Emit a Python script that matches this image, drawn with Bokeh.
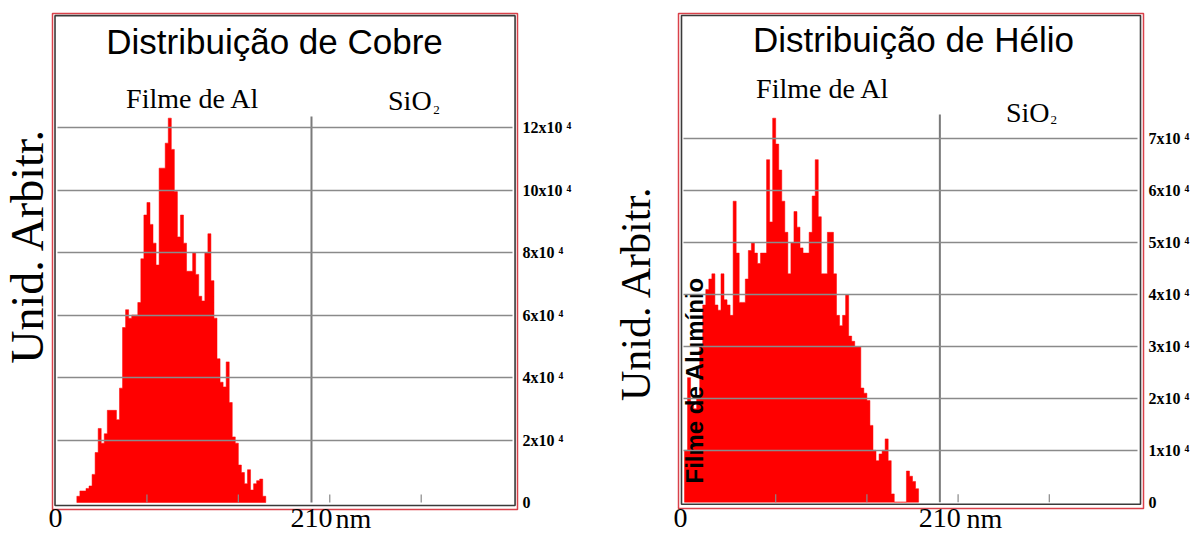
import math
import numpy as np
from bokeh.plotting import figure
from bokeh.models import Range1d, LinearAxis, FixedTicker, Grid, Label
from bokeh.layouts import row
from bokeh.embed import file_html
from bokeh.resources import INLINE

# ---------------- data ----------------
bin_width_nm = 2.5
cobre_start_nm = 17.5
cobre_counts_1e4 = [0.2, 0.37, 0.37, 0.45, 0.53, 0.9, 1.6, 2.37, 1.9, 2.2,
                    2.95, 2.95, 2.95, 2.65, 3.66, 5.6, 6.17, 5.9, 6.0, 6.0,
                    6.4, 7.8, 9.2, 9.6, 8.9, 8.3, 7.6, 10.7, 10.7, 11.5,
                    12.3, 11.3, 9.95, 8.5, 9.2, 8.3, 7.4, 7.4, 8.0, 7.3,
                    6.6, 6.45, 8.0, 8.6, 7.1, 5.9, 4.6, 3.85, 3.7, 4.5,
                    3.2, 2.1, 1.9, 1.2, 0.96, 0.6, 1.05, 0.4, 0.6, 0.7,
                    0.75, 0.2]
helio_start_nm = 0.0
helio_counts_1e4 = [1.0, 2.4, 1.9, 1.8, 2.0, 3.0, 3.8, 4.1, 4.3, 4.4,
                    3.8, 3.7, 4.4, 3.9, 3.8, 3.6, 5.8, 4.8, 3.85, 3.85,
                    4.3, 4.85, 5.0, 4.8, 4.6, 4.8, 4.8, 6.6, 5.4, 7.4,
                    6.9, 6.4, 5.8, 5.2, 4.4, 5.0, 5.6, 5.3, 4.9, 4.8,
                    4.8, 5.2, 5.9, 6.6, 5.5, 4.4, 4.4, 5.2, 5.2, 4.4,
                    3.6, 3.4, 3.6, 4.0, 3.2, 3.1, 3.0, 3.0, 2.2, 2.1,
                    1.96, 1.48, 1.0, 0.8, 0.93, 1.0, 1.22, 0.8, 0.16, 0.0,
                    0.0, 0.0, 0.0, 0.6, 0.5, 0.4, 0.26]
interface_nm = 210
x_minor_ticks_nm = [75, 150, 225, 300]
cobre_y_ticks = [0, 2, 4, 6, 8, 10, 12]
helio_y_ticks = [0, 1, 2, 3, 4, 5, 6, 7]
cobre_title = "Distribuição de Cobre"
helio_title = "Distribuição de Hélio"
y_title = "Unid. Arbitr."
film_label = "Filme de Al"
substrate_label = "SiO"
substrate_sub = "2"
x_unit = "nm"
helio_side_label = "Filme de Alumínio"

RED = "#ff0000"
FRAME_RED = "#d9414a"
GRID = "#8a8a8a"
BASE_SHIFT = 0.38  # em, correction of the rendered alphabetic baseline


def y_tick_label(v):
    return "0" if v == 0 else f"{v}x10 \u2074"


def step_outline(counts, start_nm):
    edges = start_nm + bin_width_nm * np.arange(len(counts) + 1)
    xs = [edges[0]]
    ys = [0.0]
    for i, c in enumerate(counts):
        xs += [edges[i], edges[i + 1]]
        ys += [c, c]
    xs.append(edges[-1])
    ys.append(0.0)
    return xs, ys


def add_text(p, x, y, text, font, size_px, align="center", style="normal", angle=0.0):
    shift = BASE_SHIFT * size_px
    if angle:
        xo, yo = -shift, 0.0
    else:
        xo, yo = 0.0, shift
    p.add_layout(Label(x=x, y=y, text=text, angle=angle, x_offset=xo, y_offset=yo,
                       text_font=font, text_font_size=f"{size_px}px",
                       text_font_style=style, text_align=align,
                       text_baseline="alphabetic", text_color="black"))


def panel(counts, start_nm, yticks, title, cfg):
    p = figure(width=cfg["w"], height=536, output_backend="svg", toolbar_location=None,
               x_range=Range1d(*cfg["xr"]), y_range=Range1d(*cfg["yr"]),
               x_axis_location=None, y_axis_location=None,
               min_border_left=0, min_border_right=cfg["br"],
               min_border_top=0, min_border_bottom=0)
    p.grid.visible = False
    p.background_fill_color = "white"
    p.border_fill_color = "white"
    p.outline_line_color = None

    # histogram (one stepped area)
    xs, ys = step_outline(counts, start_nm)
    p.patch(xs, ys, fill_color=RED, line_color=RED, line_width=0.5)

    # outer red box and inner dark frame
    rl, rr, rb, rt = cfg["red_box"]
    p.quad(left=[rl], right=[rr], bottom=[rb], top=[rt], fill_color=None,
           line_color=FRAME_RED, line_width=1.5)
    fl, fr, fb, ft = cfg["frame"]
    p.quad(left=[fl], right=[fr], bottom=[fb], top=[ft], fill_color=None,
           line_color="#3a3a3a", line_width=1.6)

    # horizontal grid lines
    gl, gr = cfg["gx"]
    gvals = [v for v in yticks if v != 0]
    if "cross_bounds" in Grid.properties():
        g = Grid(dimension=1, ticker=FixedTicker(ticks=gvals), cross_bounds=(gl, gr),
                 grid_line_color=GRID, grid_line_width=1.5, level="overlay")
        p.add_layout(g)
    else:
        p.segment(x0=[gl] * len(gvals), x1=[gr] * len(gvals), y0=gvals, y1=gvals,
                  line_color=GRID, line_width=1.5, level="overlay")

    # interface line at 210 nm
    p.segment(x0=[interface_nm], x1=[interface_nm], y0=[0], y1=[cfg["vtop"]],
              line_color="#7a7a7a", line_width=2, level="overlay")
    # small ticks on the baseline
    p.segment(x0=x_minor_ticks_nm, x1=x_minor_ticks_nm, y0=[0] * 4,
              y1=[cfg["tick_h"]] * 4, line_color="#888888", line_width=1.2, level="overlay")

    # right axis with tick labels
    ra = LinearAxis(ticker=FixedTicker(ticks=yticks),
                    major_label_overrides={v: y_tick_label(v) for v in yticks},
                    axis_line_color=None, major_tick_line_color=None, minor_tick_line_color=None,
                    major_tick_out=0, major_tick_in=0, minor_tick_out=0, minor_tick_in=0,
                    major_label_standoff=3, major_label_text_font="Liberation Serif",
                    major_label_text_font_style="bold", major_label_text_font_size="16px",
                    major_label_text_color="black")
    p.add_layout(ra, "right")

    serif, sans = "Liberation Serif", "Liberation Sans"
    # vertical y title
    lx, ly = cfg["ylab_xy"]
    add_text(p, lx, ly, y_title, serif, cfg["lab_size"], angle=math.pi / 2)
    # x labels under the baseline
    xb = cfg["xlab_y"]
    add_text(p, cfg["zero_x"], xb, "0", serif, 28)
    add_text(p, interface_nm, xb, str(interface_nm), serif, 28)
    add_text(p, cfg["nm_x"], xb, x_unit, serif, 28, align="left")
    # texts inside the box
    tx, ty = cfg["title_xy"]
    add_text(p, tx, ty, title, sans, 35)
    fx, fy = cfg["film_xy"]
    add_text(p, fx, fy, film_label, serif, 28)
    sx, sy = cfg["sio_xy"]
    add_text(p, sx, sy, substrate_label, serif, 28, align="left")
    s2x, s2y = cfg["sub_xy"]
    add_text(p, s2x, s2y, substrate_sub, serif, 13, align="left")
    return p


cobre_cfg = dict(w=598, br=79,
                 xr=(-45.12, 380.64), yr=(-1.088, 16.064),
                 red_box=(-2.46, 379.0, -0.224, 15.648),
                 frame=(-0.4, 377.0, -0.096, 15.58), gx=(1.6, 375.0),
                 vtop=12.35, tick_h=0.256,
                 ylab_xy=(-8.5, 8.22), lab_size=46,
                 xlab_y=-0.848, zero_x=0.0, nm_x=229.7,
                 title_xy=(179.7, 14.34), film_xy=(112.8, 12.59),
                 sio_xy=(272.8, 12.51), sub_xy=(309.8, 12.40))

helio_cfg = dict(w=599, br=52,
                 xr=(-70.72, 379.11), yr=(-0.661, 9.667),
                 red_box=(-4.93, 377.47, -0.121, 9.416),
                 frame=(-2.47, 375.0, -0.04, 9.378), gx=(-0.8, 372.5),
                 vtop=7.47, tick_h=0.154,
                 ylab_xy=(-27.1, 4.03), lab_size=42,
                 xlab_y=-0.516, zero_x=-3.3, nm_x=231.9,
                 title_xy=(188.3, 8.668), film_xy=(113.9, 7.763),
                 sio_xy=(264.4, 7.30), sub_xy=(301.0, 7.26))

p1 = panel(cobre_counts_1e4, cobre_start_nm, cobre_y_ticks, cobre_title, cobre_cfg)
p2 = panel(helio_counts_1e4, helio_start_nm, helio_y_ticks, helio_title, helio_cfg)

add_text(p2, 15.6, 0.36, helio_side_label, "Liberation Sans", 24,
         align="left", style="bold", angle=math.pi / 2)

layout = row(p1, p2, spacing=0)
open("out.html", "w").write(file_html(layout, INLINE))
